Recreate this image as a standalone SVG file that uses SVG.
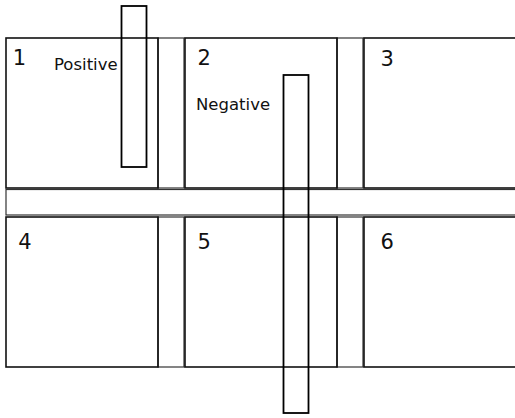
<svg xmlns="http://www.w3.org/2000/svg" width="515" height="418" viewBox="0 0 515 418">
<style>
.box{fill:none;stroke:#111;stroke-width:1.6}
.strip{fill:none;stroke:#333;stroke-width:1.2}
.bar{fill:none;stroke:#000;stroke-width:1.8}
.num{font-family:"DejaVu Sans",sans-serif;font-size:21px;fill:#111}
.lbl{font-family:"DejaVu Sans",sans-serif;font-size:16.5px;fill:#111}
</style>
<rect width="515" height="418" fill="#fff"/>
<g id="strips">
<rect class="strip" x="158" y="38" width="26" height="150"/>
<rect class="strip" x="337" y="38" width="26" height="150"/>
<rect class="strip" x="158" y="217" width="26" height="150"/>
<rect class="strip" x="337" y="217" width="26" height="150"/>
<rect class="strip" x="6" y="189.5" width="530" height="25.5"/>
</g>
<g id="cell1"><rect class="box" x="6" y="38" width="152" height="150"/><text class="num" x="12.7" y="65">1</text></g>
<g id="cell2"><rect class="box" x="185" y="38" width="152" height="150"/><text class="num" x="197.5" y="65">2</text></g>
<g id="cell3"><rect class="box" x="364" y="38" width="170" height="150"/><text class="num" x="380.5" y="65.5">3</text></g>
<g id="cell4"><rect class="box" x="6" y="217" width="152" height="150"/><text class="num" x="18.3" y="249">4</text></g>
<g id="cell5"><rect class="box" x="185" y="217" width="152" height="150"/><text class="num" x="197.4" y="249">5</text></g>
<g id="cell6"><rect class="box" x="364" y="217" width="170" height="150"/><text class="num" x="380.5" y="249">6</text></g>
<g id="positive"><rect class="bar" x="121.5" y="6" width="25" height="161"/><text class="lbl" x="54" y="70">Positive</text></g>
<g id="negative"><rect class="bar" x="283.5" y="75" width="25" height="338"/><text class="lbl" x="196" y="110">Negative</text></g>
</svg>
